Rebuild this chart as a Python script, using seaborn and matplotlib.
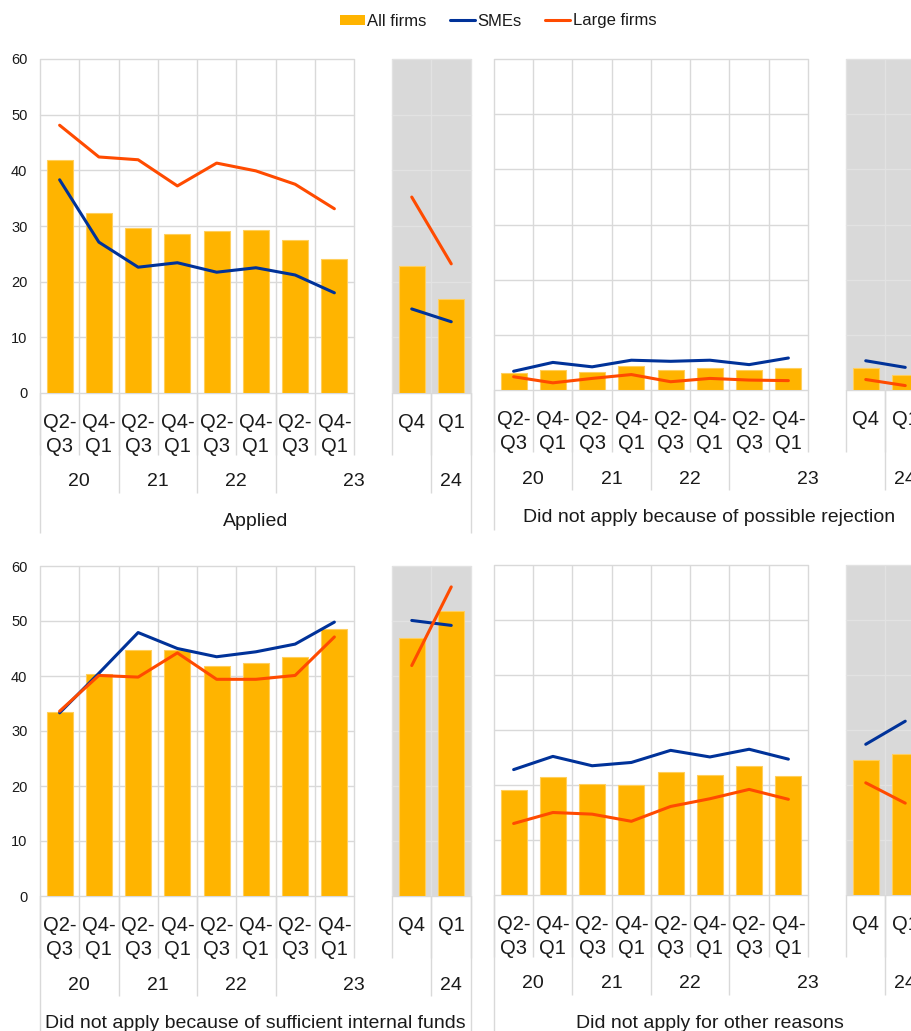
import numpy as np
import pandas as pd
import matplotlib
matplotlib.use("Agg")
import matplotlib.pyplot as plt
import matplotlib.transforms as mtrans
from matplotlib.patches import Patch
from matplotlib.lines import Line2D
import seaborn as sns

# ---------------- data ----------------
main_ticks = ["Q2-\nQ3", "Q4-\nQ1", "Q2-\nQ3", "Q4-\nQ1",
              "Q2-\nQ3", "Q4-\nQ1", "Q2-\nQ3", "Q4-\nQ1"]
side_ticks = ["Q4", "Q1"]
years = ["20", "21", "22", "23", "24"]
series_names = ["All firms", "SMEs", "Large firms"]
titles = ["Applied",
          "Did not apply because of possible rejection",
          "Did not apply because of sufficient internal funds",
          "Did not apply for other reasons"]

# Applied
applied_all = [41.9, 32.3, 29.6, 28.6, 29.1, 29.3, 27.5, 24.1]
applied_all_side = [22.8, 16.9]
applied_sme = [38.3, 27.1, 22.6, 23.4, 21.7, 22.5, 21.2, 18.0]
applied_sme_side = [15.1, 12.8]
applied_large = [48.1, 42.4, 41.9, 37.2, 41.3, 39.9, 37.5, 33.1]
applied_large_side = [35.2, 23.2]

# Did not apply because of possible rejection
reject_all = [3.0, 3.6, 3.3, 4.4, 3.7, 4.0, 3.6, 4.0]
reject_all_side = [3.9, 2.8]
reject_sme = [3.4, 5.0, 4.2, 5.4, 5.2, 5.4, 4.6, 5.8]
reject_sme_side = [5.3, 4.1]
reject_large = [2.4, 1.3, 2.1, 2.8, 1.5, 2.1, 1.8, 1.7]
reject_large_side = [1.9, 0.8]

# Did not apply because of sufficient internal funds
funds_all = [33.5, 40.4, 44.8, 44.7, 41.9, 42.4, 43.4, 48.6]
funds_all_side = [46.9, 51.9]
funds_sme = [33.3, 40.5, 47.9, 45.0, 43.5, 44.4, 45.8, 49.8]
funds_sme_side = [50.1, 49.2]
funds_large = [33.6, 40.1, 39.8, 44.2, 39.4, 39.4, 40.1, 47.1]
funds_large_side = [41.9, 56.2]

# Did not apply for other reasons
other_all = [19.1, 21.5, 20.2, 20.0, 22.4, 21.9, 23.5, 21.6]
other_all_side = [24.5, 25.6]
other_sme = [22.8, 25.2, 23.5, 24.1, 26.3, 25.1, 26.5, 24.7]
other_sme_side = [27.4, 31.6]
other_large = [13.0, 15.0, 14.7, 13.4, 16.1, 17.5, 19.2, 17.4]
other_large_side = [20.4, 16.7]

# ---------------- style ----------------
YELLOW = "#FFB400"
BLUE = "#003299"
ORANGE = "#FF4B00"
GRID = "#d9d9d9"
SIDE_BG = "#d9d9d9"
SIDE_GRID = "#e2e2e2"
TXT = "#1a1a1a"

sns.set_theme(style="white")
plt.rcParams["font.family"] = ["Liberation Sans", "DejaVu Sans"]

W, H = 912, 1031
fig = plt.figure(figsize=(W / 100, H / 100), dpi=100)


def add_ax(x0, x1, y0, y1):
    return fig.add_axes([x0 / W, 1 - y1 / H, (x1 - x0) / W, (y1 - y0) / H])


def vline(ax, x, below_px, h_px, color, top=1.0):
    tr = mtrans.blended_transform_factory(ax.transData, ax.transAxes)
    ax.plot([x, x], [-below_px / h_px, top], transform=tr, color=color,
            lw=1, clip_on=False, zorder=0.5, solid_capstyle="butt")


def panel(xm0, xm1, xs0, xs1, ytop, yzero, bars, bars_s, sme, sme_s,
          large, large_s, title, show_y):
    h = yzero - ytop
    axm = add_ax(xm0, xm1, ytop, yzero)
    axs = add_ax(xs0, xs1, ytop, yzero)
    axs.set_facecolor(SIDE_BG)

    for ax, b, s, l, ticks, gcol in ((axm, bars, sme, large, main_ticks, GRID),
                                     (axs, bars_s, sme_s, large_s, side_ticks, SIDE_GRID)):
        n = len(b)
        xs = np.arange(n)
        sns.barplot(x=xs, y=b, ax=ax, color=YELLOW, saturation=1, width=0.66,
                    edgecolor="#FFCF5C", linewidth=0.8, zorder=1)
        sns.lineplot(x=xs, y=s, ax=ax, color=BLUE, linewidth=2.2, sort=False, zorder=3)
        sns.lineplot(x=xs, y=l, ax=ax, color=ORANGE, linewidth=2.2, sort=False, zorder=3)
        ax.set_xlim(-0.5, n - 0.5)
        ax.set_ylim(0, 60)
        ax.set_xlabel("")
        ax.set_ylabel("")
        for sp in ax.spines.values():
            sp.set_visible(False)
        ax.grid(False)
        for yv in range(0, 61, 10):
            ax.axhline(yv, color=gcol if yv != 0 else GRID, lw=1,
                       zorder=0.5, clip_on=False)
        for k in range(n + 1):
            vline(ax, k - 0.5, 0, h, gcol)
        ax.set_xticks(xs)
        ax.set_xticklabels(ticks, fontsize=14.5, color=TXT, linespacing=1.3)
        ax.tick_params(axis="x", length=0, pad=14.5)
        ax.set_yticks(range(0, 61, 10))
        ax.tick_params(axis="y", length=0, pad=9, labelsize=10.5, labelcolor=TXT)
        if ax is axs or not show_y:
            ax.tick_params(axis="y", labelleft=False)

    # separators below the axes (tick row)
    for k in range(9):
        vline(axm, k - 0.5, 62, h, GRID, top=0)
    for k in range(3):
        vline(axs, k - 0.5, 62, h, GRID, top=0)
    # year row separators
    for k in (1.5, 3.5, 5.5):
        vline(axm, k, 100, h, GRID, top=0)
    vline(axs, 0.5, 100, h, GRID, top=0)
    # title row edges
    vline(axm, -0.5, 140, h, GRID, top=0)
    vline(axs, 1.5, 140, h, GRID, top=0)

    trm = mtrans.blended_transform_factory(axm.transData, axm.transAxes)
    trs = mtrans.blended_transform_factory(axs.transData, axs.transAxes)
    for xpos, yr in zip((0.5, 2.5, 4.5, 7.5), years[:4]):
        axm.text(xpos, -89 / h, yr, transform=trm, ha="center", va="center",
                 fontsize=14, color=TXT)
    axs.text(1, -89 / h, years[4], transform=trs, ha="center", va="center",
             fontsize=14, color=TXT)
    fig.text(((xm0 + xs1) / 2) / W, 1 - (yzero + 128) / H, title,
             ha="center", va="center", fontsize=14, color=TXT)


panel(40, 354, 392, 471, 59, 393, applied_all, applied_all_side,
      applied_sme, applied_sme_side, applied_large, applied_large_side,
      titles[0], True)
panel(494, 808, 846, 925, 59, 390, reject_all, reject_all_side,
      reject_sme, reject_sme_side, reject_large, reject_large_side,
      titles[1], False)
panel(40, 354, 392, 471, 566, 896, funds_all, funds_all_side,
      funds_sme, funds_sme_side, funds_large, funds_large_side,
      titles[2], True)
panel(494, 808, 846, 925, 565, 895, other_all, other_all_side,
      other_sme, other_sme_side, other_large, other_large_side,
      titles[3], False)

handles = [Patch(facecolor=YELLOW, edgecolor="none"),
           Line2D([0], [0], color=BLUE, lw=2.2),
           Line2D([0], [0], color=ORANGE, lw=2.2)]
fig.legend(handles, series_names, loc="center", ncol=3, frameon=False,
           bbox_to_anchor=(498 / W, 1 - 21 / H), fontsize=12,
           handlelength=1.5, handleheight=0.55, handletextpad=0.15,
           columnspacing=1.4, labelcolor=TXT)

fig.savefig("out.png", dpi=100)
